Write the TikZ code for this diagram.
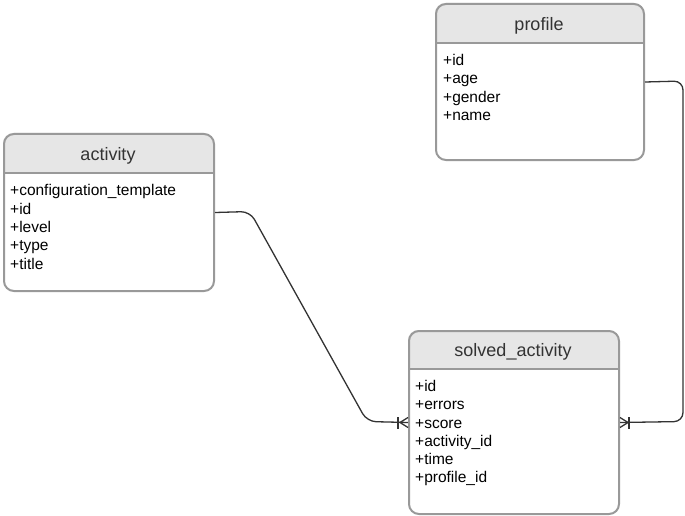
\documentclass[tikz,border=0pt]{standalone}
\usepackage{fontspec}
\setmainfont{Liberation Sans}
\definecolor{hdr}{HTML}{E6E6E6}
\definecolor{bord}{HTML}{999999}
\definecolor{conncol}{HTML}{333333}
\tikzset{
  tbl/.style={draw=bord, line width=2pt, rounded corners=10pt, rectangle, anchor=north west, inner sep=0pt},
  ttl/.style={font=\fontsize{18}{20}\selectfont, text=black!80, inner sep=0pt},
  rows/.style={font=\fontsize{15.5}{18.3}\selectfont, align=left, anchor=north west, inner sep=0pt},
  conn/.style={draw=conncol, line width=1.3pt, rounded corners=9pt},
  crow/.style={draw=conncol, line width=1.3pt}
}
\newcommand{\tablebox}[7]{% name, x, y, w, h, header h, title
  \fill[hdr] (#2,#3+#6) [rounded corners=10pt]-- (#2,#3) -- (#2+#4,#3) [sharp corners]-- (#2+#4,#3+#6) -- cycle;
  \draw[bord, line width=2pt] (#2,#3+#6) -- (#2+#4,#3+#6);
  \node[tbl, minimum width=#4, minimum height=#5] (#1) at (#2,#3) {};
  \node[ttl] (#1-title) at (#2+#4/2,#3+#6/2+2.5) {#7};
}
\begin{document}
\begin{tikzpicture}[x=1pt,y=-1pt]
\useasboundingbox (0,0) rectangle (685,516);
% tables
\tablebox{activity}{3}{133}{210}{157}{40}{activity}
\node[rows] (activity-rows) at (10,184.5) {+configuration\_template\\+id\\+level\\+type\\+title};
\tablebox{profile}{435}{3}{208}{156}{40}{profile}
\node[rows] (profile-rows) at (443,54) {+id\\+age\\+gender\\+name};
\tablebox{sa}{408}{330}{210}{183}{39}{solved\_activity}
\node[rows] (sa-rows) at (415,380) {+id\\+errors\\+score\\+activity\_id\\+time\\+profile\_id};
% connectors
\coordinate (c1) at (250,211.5);
\coordinate (c2) at (367,421.5);
\draw[conn] (activity.east) -- (c1) -- (c2) -- (sa.west);
\coordinate (c3) at (683,81);
\coordinate (c4) at (683,421.5);
\draw[conn] (profile.east) -- (c3) -- (c4) -- (sa.east);
% crow's feet (many and one)
\draw[crow] ([xshift=-10pt,yshift=-6pt]sa.west) -- ([xshift=-10pt,yshift=6pt]sa.west);
\draw[crow] ([yshift=-5pt]sa.west) -- ([xshift=-8pt]sa.west) -- ([yshift=5pt]sa.west);
\draw[crow] ([xshift=9pt,yshift=-6pt]sa.east) -- ([xshift=9pt,yshift=6pt]sa.east);
\draw[crow] ([yshift=-5pt]sa.east) -- ([xshift=8pt]sa.east) -- ([yshift=5pt]sa.east);
\end{tikzpicture}
\end{document}
